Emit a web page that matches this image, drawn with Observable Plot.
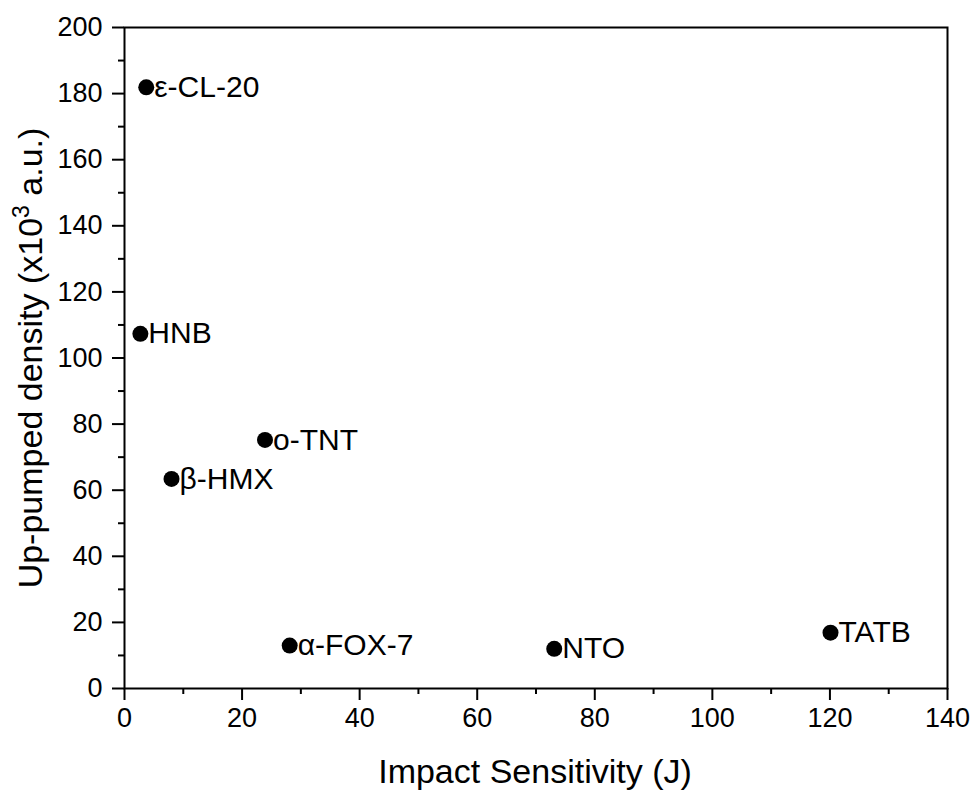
<!DOCTYPE html>
<html><head><meta charset="utf-8">
<script src="https://cdn.jsdelivr.net/npm/d3@7"></script>
<script src="https://cdn.jsdelivr.net/npm/@observablehq/plot@0.6"></script>
<style>body{margin:0;background:#fff}</style>
</head><body><div id="chart"></div>
<script>
const compounds = ["ε-CL-20", "HNB", "o-TNT", "β-HMX", "α-FOX-7", "NTO", "TATB"];
const impactSensitivity = [3.7, 2.7, 23.9, 8.0, 28.1, 73.1, 120.1];
const upPumpedDensity = [181.9, 107.3, 75.2, 63.4, 13.0, 12.0, 16.9];
const xMajorTicks = [0, 20, 40, 60, 80, 100, 120, 140];
const xMinorTicks = [10, 30, 50, 70, 90, 110, 130];
const yMajorTicks = [0, 20, 40, 60, 80, 100, 120, 140, 160, 180, 200];
const yMinorTicks = [10, 30, 50, 70, 90, 110, 130, 150, 170, 190];
const xTitle = "Impact Sensitivity (J)";
const yTitleParts = ["Up-pumped density (x10", "3", " a.u.)"];

const data = compounds.map((name, i) => ({name, x: impactSensitivity[i], y: upPumpedDensity[i]}));
const font = "'Liberation Sans', Arial, sans-serif";

const plot = Plot.plot({
  width: 972, height: 792,
  marginLeft: 124, marginRight: 25, marginTop: 27, marginBottom: 104,
  x: {domain: [0, 140]},
  y: {domain: [0, 200]},
  style: {fontFamily: font, background: "#fff", color: "#000"},
  marks: [
    Plot.axisX({ticks: xMajorTicks, tickSize: 12, tickPadding: 7, fontSize: 27, strokeWidth: 2, label: null, tickFormat: d => String(d)}),
    Plot.axisX({ticks: xMinorTicks, tickSize: 6, strokeWidth: 2, label: null, tickFormat: () => ""}),
    Plot.axisY({ticks: yMajorTicks, tickSize: 12, tickPadding: 10, fontSize: 27, strokeWidth: 2, label: null, tickFormat: d => String(d)}),
    Plot.axisY({ticks: yMinorTicks, tickSize: 6, strokeWidth: 2, label: null, tickFormat: () => ""}),
    Plot.frame({strokeWidth: 2, stroke: "#000"}),
    Plot.dot(data, {x: "x", y: "y", r: 8, fill: "#000"}),
    Plot.text(data, {x: "x", y: "y", text: "name", textAnchor: "start", dx: 8, fontSize: 30, fill: "#000"})
  ]
});
document.getElementById("chart").appendChild(plot);

const svg = d3.select(plot);
svg.append("text")
  .attr("x", 535).attr("y", 783)
  .attr("text-anchor", "middle")
  .attr("font-family", font).attr("font-size", 34).attr("fill", "#000")
  .text(xTitle);
const yt = svg.append("text")
  .attr("transform", "translate(42,358) rotate(-90)")
  .attr("text-anchor", "middle")
  .attr("font-family", font).attr("font-size", 34).attr("fill", "#000");
yt.append("tspan").text(yTitleParts[0]);
yt.append("tspan").attr("font-size", 23).attr("dy", -13).text(yTitleParts[1]);
yt.append("tspan").attr("dy", 13).text(yTitleParts[2]);
</script>
</body></html>
